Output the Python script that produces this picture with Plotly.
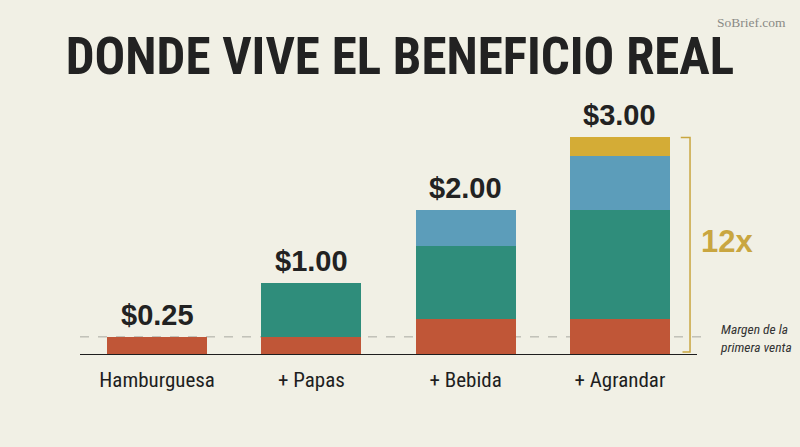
import plotly.graph_objects as go

categories = ["Hamburguesa", "+ Papas", "+ Bebida", "+ Agrandar"]
red_vals = [0.25, 0.25, 0.5, 0.5]
teal_vals = [0, 0.75, 1.0, 1.5]
blue_vals = [0, 0, 0.5, 0.75]
yellow_vals = [0, 0, 0, 0.25]
totals = [0.25, 1.00, 2.00, 3.00]
total_labels = ["$0.25", "$1.00", "$2.00", "$3.00"]

BG = "#F1F0E5"
COND = "Liberation Sans Narrow, Arial Narrow, Roboto Condensed, Liberation Sans, sans-serif"

fig = go.Figure()
for vals, col in [(red_vals, "#C05637"), (teal_vals, "#2F8D7B"),
                  (blue_vals, "#5C9DBA"), (yellow_vals, "#D4AC36")]:
    fig.add_trace(go.Bar(x=categories, y=vals, marker=dict(color=col, line=dict(width=0)),
                         hoverinfo="skip", showlegend=False))

for c, t, lab in zip(categories, totals, total_labels):
    fig.add_annotation(x=c, y=t, text="<b>" + lab + "</b>", showarrow=False,
                       xanchor="center", yanchor="bottom", yshift=4,
                       font=dict(family="Liberation Sans, Arial, sans-serif", size=29, color="#222222"))

gold = "#C9A640"
# dashed first-sale line
fig.add_shape(type="line", xref="paper", yref="y", x0=0.0, x1=1.018, y0=0.25, y1=0.25,
              line=dict(color="#A8A8A0", width=1, dash="dash"), layer="below")
# baseline
fig.add_shape(type="line", xref="paper", yref="y", x0=0.0, x1=1.0, y0=0, y1=0,
              line=dict(color="#1E1E1E", width=2))
# bracket
bx = 0.9887
fig.add_shape(type="path", xref="paper", yref="y",
              path=f"M 0.9737 3.0 L {bx} 3.0 L {bx} 0.04 L 0.9765 0.04",
              line=dict(color=gold, width=1.5))
fig.add_annotation(xref="paper", yref="y", x=1.049, y=1.56, text="<b>12x</b>", showarrow=False,
                   xanchor="center", yanchor="middle",
                   font=dict(family="Liberation Sans, Arial, sans-serif", size=31, color=gold))
fig.add_annotation(xref="paper", yref="y", x=1.034, y=0.23, xanchor="left", yanchor="middle",
                   text="<i>Margen de la<br>primera venta</i>", showarrow=False, align="left",
                   font=dict(family=COND, size=13.5, color="#333333"))

fig.update_layout(
    width=800, height=447,
    paper_bgcolor=BG, plot_bgcolor=BG,
    margin=dict(l=80, r=103, t=100, b=92),
    barmode="stack", bargap=0.352,
    title=dict(text="<b>DONDE VIVE EL BENEFICIO REAL</b>", x=0.5, xanchor="center",
               y=0.875, yanchor="middle",
               font=dict(family=COND, size=51, color="#222222")),
    xaxis=dict(showgrid=False, zeroline=False, showline=False, ticks="",
               tickfont=dict(family=COND, size=21, color="#1E1E1E"), ticklabelstandoff=10,
               range=[-0.5, 3.5]),
    yaxis=dict(range=[0, 3.517], visible=False),
)
fig.add_annotation(xref="paper", yref="paper", x=(788 - 80) / 617, y=(447 - 22 - 92) / 255,
                   xanchor="right", yanchor="middle", text="SoBrief.com", showarrow=False,
                   font=dict(family="Liberation Serif, DejaVu Serif, serif", size=13.5, color="#8A8A85"))

fig.write_html("out.html")
